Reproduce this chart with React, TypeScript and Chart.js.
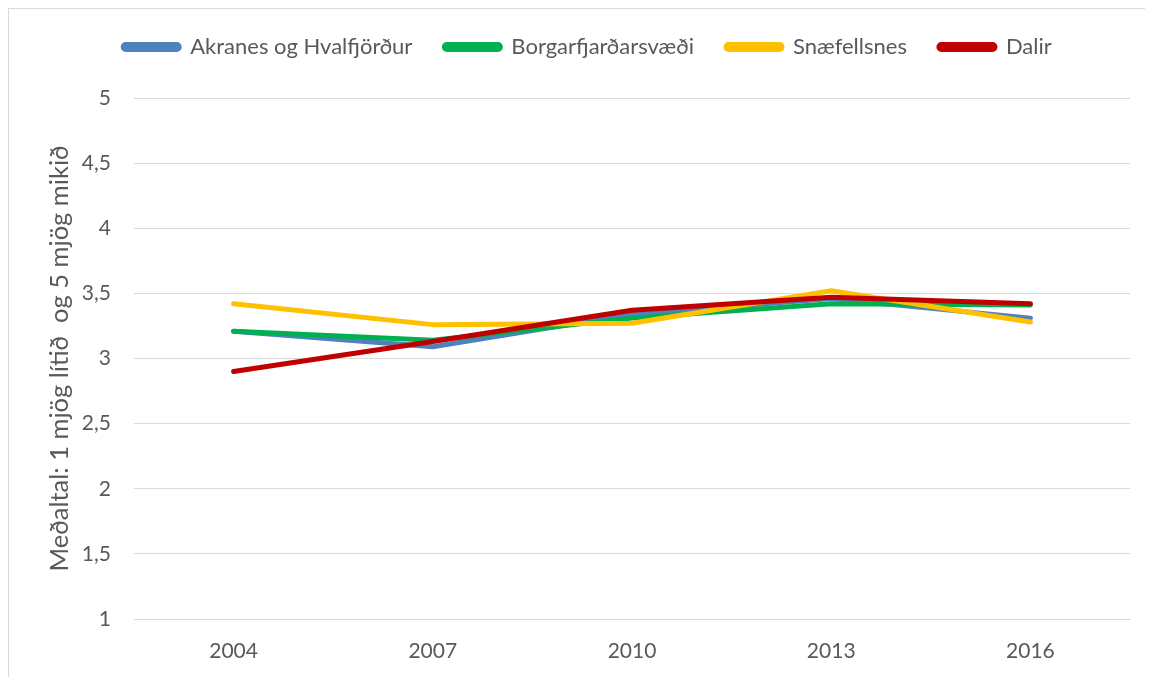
import React, { useEffect, useRef } from "react";
import { Chart, registerables } from "chart.js";

Chart.register(...registerables);

const years = ["2004", "2007", "2010", "2013", "2016"];
const akranes = [3.21, 3.09, 3.34, 3.46, 3.31];
const borgarfjordur = [3.21, 3.14, 3.31, 3.42, 3.41];
const snaefellsnes = [3.42, 3.26, 3.27, 3.52, 3.28];
const dalir = [2.9, 3.13, 3.37, 3.47, 3.42];
const seriesNames = ["Akranes og Hvalfjörður", "Borgarfjarðarsvæði", "Snæfellsnes", "Dalir"];
const seriesColors = ["#4F81BD", "#00B050", "#FFC000", "#C00000"];
const yTitle = "Meðaltal: 1 mjög lítið  og 5 mjög mikið";

const FONT = "Lato, 'Open Sans', sans-serif";
const TEXT = "#595959";

const legendSpace = {
  id: "legendSpace",
  beforeUpdate(chart: any) {
    const lg = chart.legend;
    if (lg && !lg.__patched) {
      const orig = lg.fit.bind(lg);
      lg.fit = function () {
        orig();
        this.height += 30;
      };
      lg.__patched = true;
    }
  },
};

export default function App() {
  const ref = useRef<HTMLCanvasElement | null>(null);
  useEffect(() => {
    if (!ref.current) return;
    const values = [akranes, borgarfjordur, snaefellsnes, dalir];
    const chart = new Chart(ref.current, {
      type: "line",
      data: {
        labels: years,
        datasets: values.map((v, i) => ({
          label: seriesNames[i],
          data: v,
          borderColor: seriesColors[i],
          backgroundColor: seriesColors[i],
          borderWidth: 5,
          pointRadius: 0,
          pointHoverRadius: 0,
          tension: 0,
          borderCapStyle: "round" as const,
          borderJoinStyle: "round" as const,
          order: 3 - i,
        })),
      },
      plugins: [legendSpace],
      options: {
        animation: false,
        responsive: false,
        maintainAspectRatio: false,
        layout: { padding: { top: -5, right: 23, bottom: 0, left: 36 } },
        plugins: {
          tooltip: { enabled: false },
          legend: {
            position: "top",
            labels: {
              boxWidth: 56,
              boxHeight: 5,
              useBorderRadius: true,
              borderRadius: 2.5,
              padding: 32,
              color: TEXT,
              font: { family: FONT, size: 22 },
              sort: (a: any, b: any) => a.datasetIndex - b.datasetIndex,
            },
          },
        },
        scales: {
          x: {
            offset: true,
            grid: { display: false, drawTicks: false },
            border: { display: true, color: "#d9d9d9", width: 1 },
            ticks: { color: TEXT, font: { family: FONT, size: 21 }, padding: 20 },
            afterFit: (s: any) => {
              s.height = 58;
            },
          },
          y: {
            min: 1,
            max: 5,
            grid: { color: "#d9d9d9", lineWidth: 1, drawTicks: false },
            border: { display: false },
            ticks: {
              stepSize: 0.5,
              color: TEXT,
              font: { family: FONT, size: 21 },
              padding: 23,
              callback: (v: any) => String(v).replace(".", ","),
            },
            title: {
              display: true,
              text: yTitle,
              color: TEXT,
              font: { family: FONT, size: 25.5 },
              padding: { top: -1, bottom: 0 },
            },
            afterFit: (s: any) => {
              s.width = 89;
            },
          },
        },
      },
    });
    return () => chart.destroy();
  }, []);
  return (
    <div
      style={{
        width: 1160,
        height: 680,
        borderLeft: "1px solid #d9d9d9",
        borderTop: "1px solid #d9d9d9",
        background: "#fff",
      }}
    >
      <canvas ref={ref} width={1144} height={668} style={{ display: "block" }} />
    </div>
  );
}
